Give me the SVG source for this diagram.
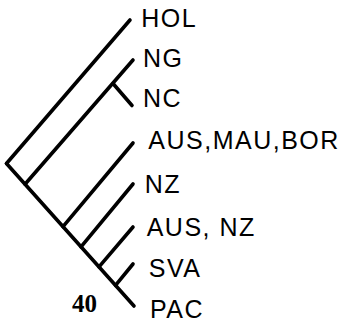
<svg xmlns="http://www.w3.org/2000/svg" width="347" height="321" viewBox="0 0 347 321">
  <style>
    .edge { stroke: #000; stroke-width: 3.6; stroke-linecap: round; fill: none; }
    .lbl { font-family: "Liberation Sans", Arial, sans-serif; font-size: 25px; letter-spacing: 1.5px; fill: #000; }
    .num { font-family: "Liberation Serif", "Times New Roman", serif; font-size: 25px; font-weight: bold; fill: #000; }
  </style>
  <rect width="347" height="321" fill="#fff"/>
  <g id="connectors">
    <line class="edge" x1="6.5" y1="163.5" x2="134" y2="306"/>
    <line class="edge" x1="6.5" y1="163.5" x2="130" y2="20"/>
    <line class="edge" x1="25" y1="184.2" x2="133" y2="60"/>
    <line class="edge" x1="113" y1="83.5" x2="132" y2="105.5"/>
    <line class="edge" x1="63" y1="226.6" x2="133" y2="143"/>
    <line class="edge" x1="81" y1="246.8" x2="133" y2="184"/>
    <line class="edge" x1="99" y1="266.9" x2="133" y2="227"/>
    <line class="edge" x1="115.5" y1="285.3" x2="133" y2="264"/>
  </g>
  <g id="node-HOL"><text class="lbl" x="141.3" y="27">HOL</text></g>
  <g id="node-NG"><text class="lbl" x="143" y="66.5">NG</text></g>
  <g id="node-NC"><text class="lbl" x="143" y="107">NC</text></g>
  <g id="node-AUS-MAU-BOR"><text class="lbl" x="148.3" y="149">AUS,MAU,BOR</text></g>
  <g id="node-NZ"><text class="lbl" x="144.7" y="193">NZ</text></g>
  <g id="node-AUS-NZ"><text class="lbl" x="146.7" y="236">AUS, NZ</text></g>
  <g id="node-SVA"><text class="lbl" x="148.8" y="276.5">SVA</text></g>
  <g id="node-PAC"><text class="lbl" x="150" y="318">PAC</text></g>
  <g id="label-40"><text class="num" x="72" y="312">40</text></g>
</svg>
